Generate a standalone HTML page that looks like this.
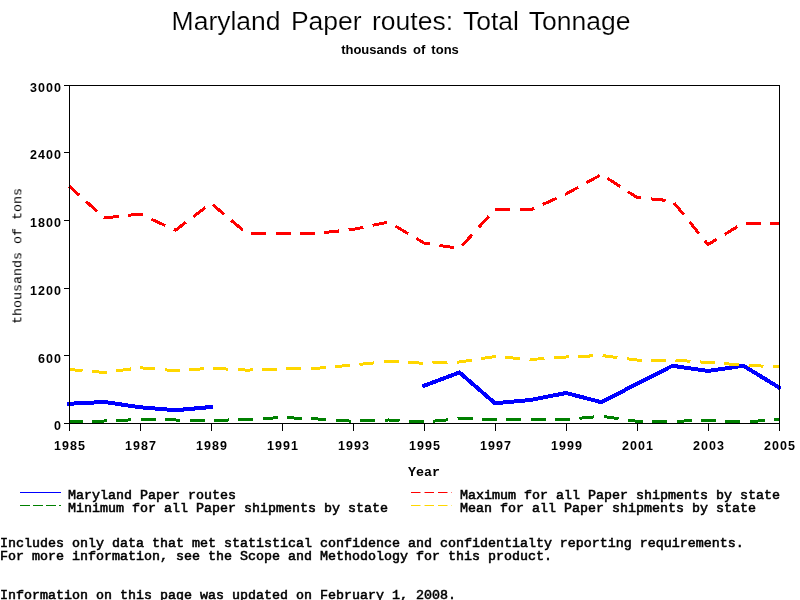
<!DOCTYPE html>
<html><head><meta charset="utf-8"><style>
html,body{margin:0;padding:0;background:#fff;width:800px;height:600px;overflow:hidden;position:relative}
.t{position:absolute;white-space:pre;line-height:1;color:#000;will-change:transform}
.s{font-family:"Liberation Sans",sans-serif}
.m{font-family:"Liberation Mono",monospace;font-size:13.333px}
.b{font-weight:bold}
.d{font-family:"Liberation Sans",sans-serif;font-weight:bold;font-size:12.5px;letter-spacing:1.05px}
.r{-webkit-text-stroke:0.55px #000}
</style></head><body>
<svg width="800" height="600" style="position:absolute;left:0;top:0">
<polyline points="69.0,403.75 104.5,402.00 140.0,407.25 175.5,410.25 211.0,407.00" fill="none" stroke="#0000ff" stroke-width="4" stroke-linejoin="round" shape-rendering="crispEdges" stroke-linecap="square"/>
<polyline points="424.0,385.75 459.5,372.50 495.0,403.25 530.5,400.00 566.0,393.00 601.5,402.25 637.0,383.75 672.5,365.75 708.0,371.00 743.5,365.75 779.0,387.50" fill="none" stroke="#0000ff" stroke-width="4" stroke-linejoin="round" shape-rendering="crispEdges" stroke-linecap="square"/>
<polyline points="69.0,186.00 104.5,218.00 140.0,214.00 175.5,230.20 211.0,203.25 246.5,233.20 282.0,233.20 317.5,233.20 353.0,229.50 388.5,222.00 424.0,243.00 459.5,248.50 495.0,209.50 530.5,210.00 566.0,194.00 601.5,174.50 637.0,197.50 672.5,201.00 708.0,244.50 743.5,223.00 779.0,223.00" fill="none" stroke="#ff0000" stroke-width="3" stroke-dasharray="15 9.4" stroke-dashoffset="1.4" stroke-linejoin="round" shape-rendering="crispEdges"/>
<polyline points="69.0,422.00 104.5,421.00 140.0,419.50 175.5,420.00 211.0,420.50 246.5,419.50 282.0,417.50 317.5,419.00 353.0,421.25 388.5,420.00 424.0,422.00 459.5,418.75 495.0,419.25 530.5,419.75 566.0,419.50 601.5,416.25 637.0,421.25 672.5,421.25 708.0,420.50 743.5,422.00 779.0,419.50" fill="none" stroke="#008000" stroke-width="3" stroke-dasharray="15 9.4" stroke-dashoffset="1.4" stroke-linejoin="round" shape-rendering="crispEdges"/>
<polyline points="69.0,369.50 104.5,372.50 140.0,367.75 175.5,370.75 211.0,368.25 246.5,370.10 282.0,369.00 317.5,368.25 353.0,365.00 388.5,361.50 424.0,363.25 459.5,362.00 495.0,356.50 530.5,359.50 566.0,357.00 601.5,355.50 637.0,360.00 672.5,360.00 708.0,362.50 743.5,365.00 779.0,367.00" fill="none" stroke="#ffd700" stroke-width="3" stroke-dasharray="15 9.4" stroke-dashoffset="1.4" stroke-linejoin="round" shape-rendering="crispEdges"/>
<rect x="69.5" y="85.5" width="710" height="338" fill="none" stroke="#000" stroke-width="1"/>
<line x1="64" y1="423.5" x2="69.5" y2="423.5" stroke="#000" stroke-width="1"/>
<line x1="64" y1="355.5" x2="69.5" y2="355.5" stroke="#000" stroke-width="1"/>
<line x1="64" y1="288.5" x2="69.5" y2="288.5" stroke="#000" stroke-width="1"/>
<line x1="64" y1="220.5" x2="69.5" y2="220.5" stroke="#000" stroke-width="1"/>
<line x1="64" y1="152.5" x2="69.5" y2="152.5" stroke="#000" stroke-width="1"/>
<line x1="64" y1="85.5" x2="69.5" y2="85.5" stroke="#000" stroke-width="1"/>
<line x1="69.5" y1="423" x2="69.5" y2="431" stroke="#000" stroke-width="1"/>
<line x1="140.5" y1="423" x2="140.5" y2="431" stroke="#000" stroke-width="1"/>
<line x1="211.5" y1="423" x2="211.5" y2="431" stroke="#000" stroke-width="1"/>
<line x1="282.5" y1="423" x2="282.5" y2="431" stroke="#000" stroke-width="1"/>
<line x1="353.5" y1="423" x2="353.5" y2="431" stroke="#000" stroke-width="1"/>
<line x1="424.5" y1="423" x2="424.5" y2="431" stroke="#000" stroke-width="1"/>
<line x1="495.5" y1="423" x2="495.5" y2="431" stroke="#000" stroke-width="1"/>
<line x1="566.5" y1="423" x2="566.5" y2="431" stroke="#000" stroke-width="1"/>
<line x1="637.5" y1="423" x2="637.5" y2="431" stroke="#000" stroke-width="1"/>
<line x1="708.5" y1="423" x2="708.5" y2="431" stroke="#000" stroke-width="1"/>
<line x1="779.5" y1="423" x2="779.5" y2="431" stroke="#000" stroke-width="1"/>
<line x1="20" y1="492.5" x2="61" y2="492.5" stroke="#0000ff" stroke-width="1"/>
<line x1="20" y1="505.5" x2="61" y2="505.5" stroke="#008000" stroke-width="1" stroke-dasharray="10 3"/>
<line x1="411" y1="492.5" x2="452" y2="492.5" stroke="#ff0000" stroke-width="1" stroke-dasharray="9.5 4"/>
<line x1="411" y1="505.5" x2="452" y2="505.5" stroke="#ffd700" stroke-width="1" stroke-dasharray="9.5 4"/>
</svg>
<div class="t s" style="left:1px;width:800px;text-align:center;top:8px;font-size:26.5px;word-spacing:3px;-webkit-text-stroke:0.15px #fff">Maryland Paper routes: Total Tonnage</div>
<div class="t s b" style="left:0;width:800px;text-align:center;top:43px;font-size:13px;word-spacing:2.5px">thousands of tons</div>
<div class="t d" style="right:737.95px;top:420.0px">0</div>
<div class="t d" style="right:737.95px;top:353.0px">600</div>
<div class="t d" style="right:737.95px;top:285.0px">1200</div>
<div class="t d" style="right:737.95px;top:217.0px">1800</div>
<div class="t d" style="right:737.95px;top:149.0px">2400</div>
<div class="t d" style="right:737.95px;top:82.0px">3000</div>
<div class="t d" style="left:54.0px;top:440px">1985</div>
<div class="t d" style="left:125.0px;top:440px">1987</div>
<div class="t d" style="left:196.0px;top:440px">1989</div>
<div class="t d" style="left:267.0px;top:440px">1991</div>
<div class="t d" style="left:338.0px;top:440px">1993</div>
<div class="t d" style="left:409.0px;top:440px">1995</div>
<div class="t d" style="left:480.0px;top:440px">1997</div>
<div class="t d" style="left:551.0px;top:440px">1999</div>
<div class="t d" style="left:622.0px;top:440px">2001</div>
<div class="t d" style="left:693.0px;top:440px">2003</div>
<div class="t d" style="left:764.0px;top:440px">2005</div>
<div class="t m b" style="left:408px;top:466px">Year</div>
<div class="t m" style="left:18px;top:256px;transform:translate(-50%,-50%) rotate(-90deg);transform-origin:center">thousands of tons</div>
<div class="t m r" style="left:68px;top:489px">Maryland Paper routes</div>
<div class="t m r" style="left:68px;top:502px">Minimum for all Paper shipments by state</div>
<div class="t m r" style="left:460px;top:489px">Maximum for all Paper shipments by state</div>
<div class="t m r" style="left:460px;top:502px">Mean for all Paper shipments by state</div>
<div class="t m r" style="left:0;top:537px">Includes only data that met statistical confidence and confidentialty reporting requirements.
For more information, see the Scope and Methodology for this product.</div>
<div class="t m r" style="left:0;top:589px">Information on this page was updated on February 1, 2008.</div>
</body></html>
